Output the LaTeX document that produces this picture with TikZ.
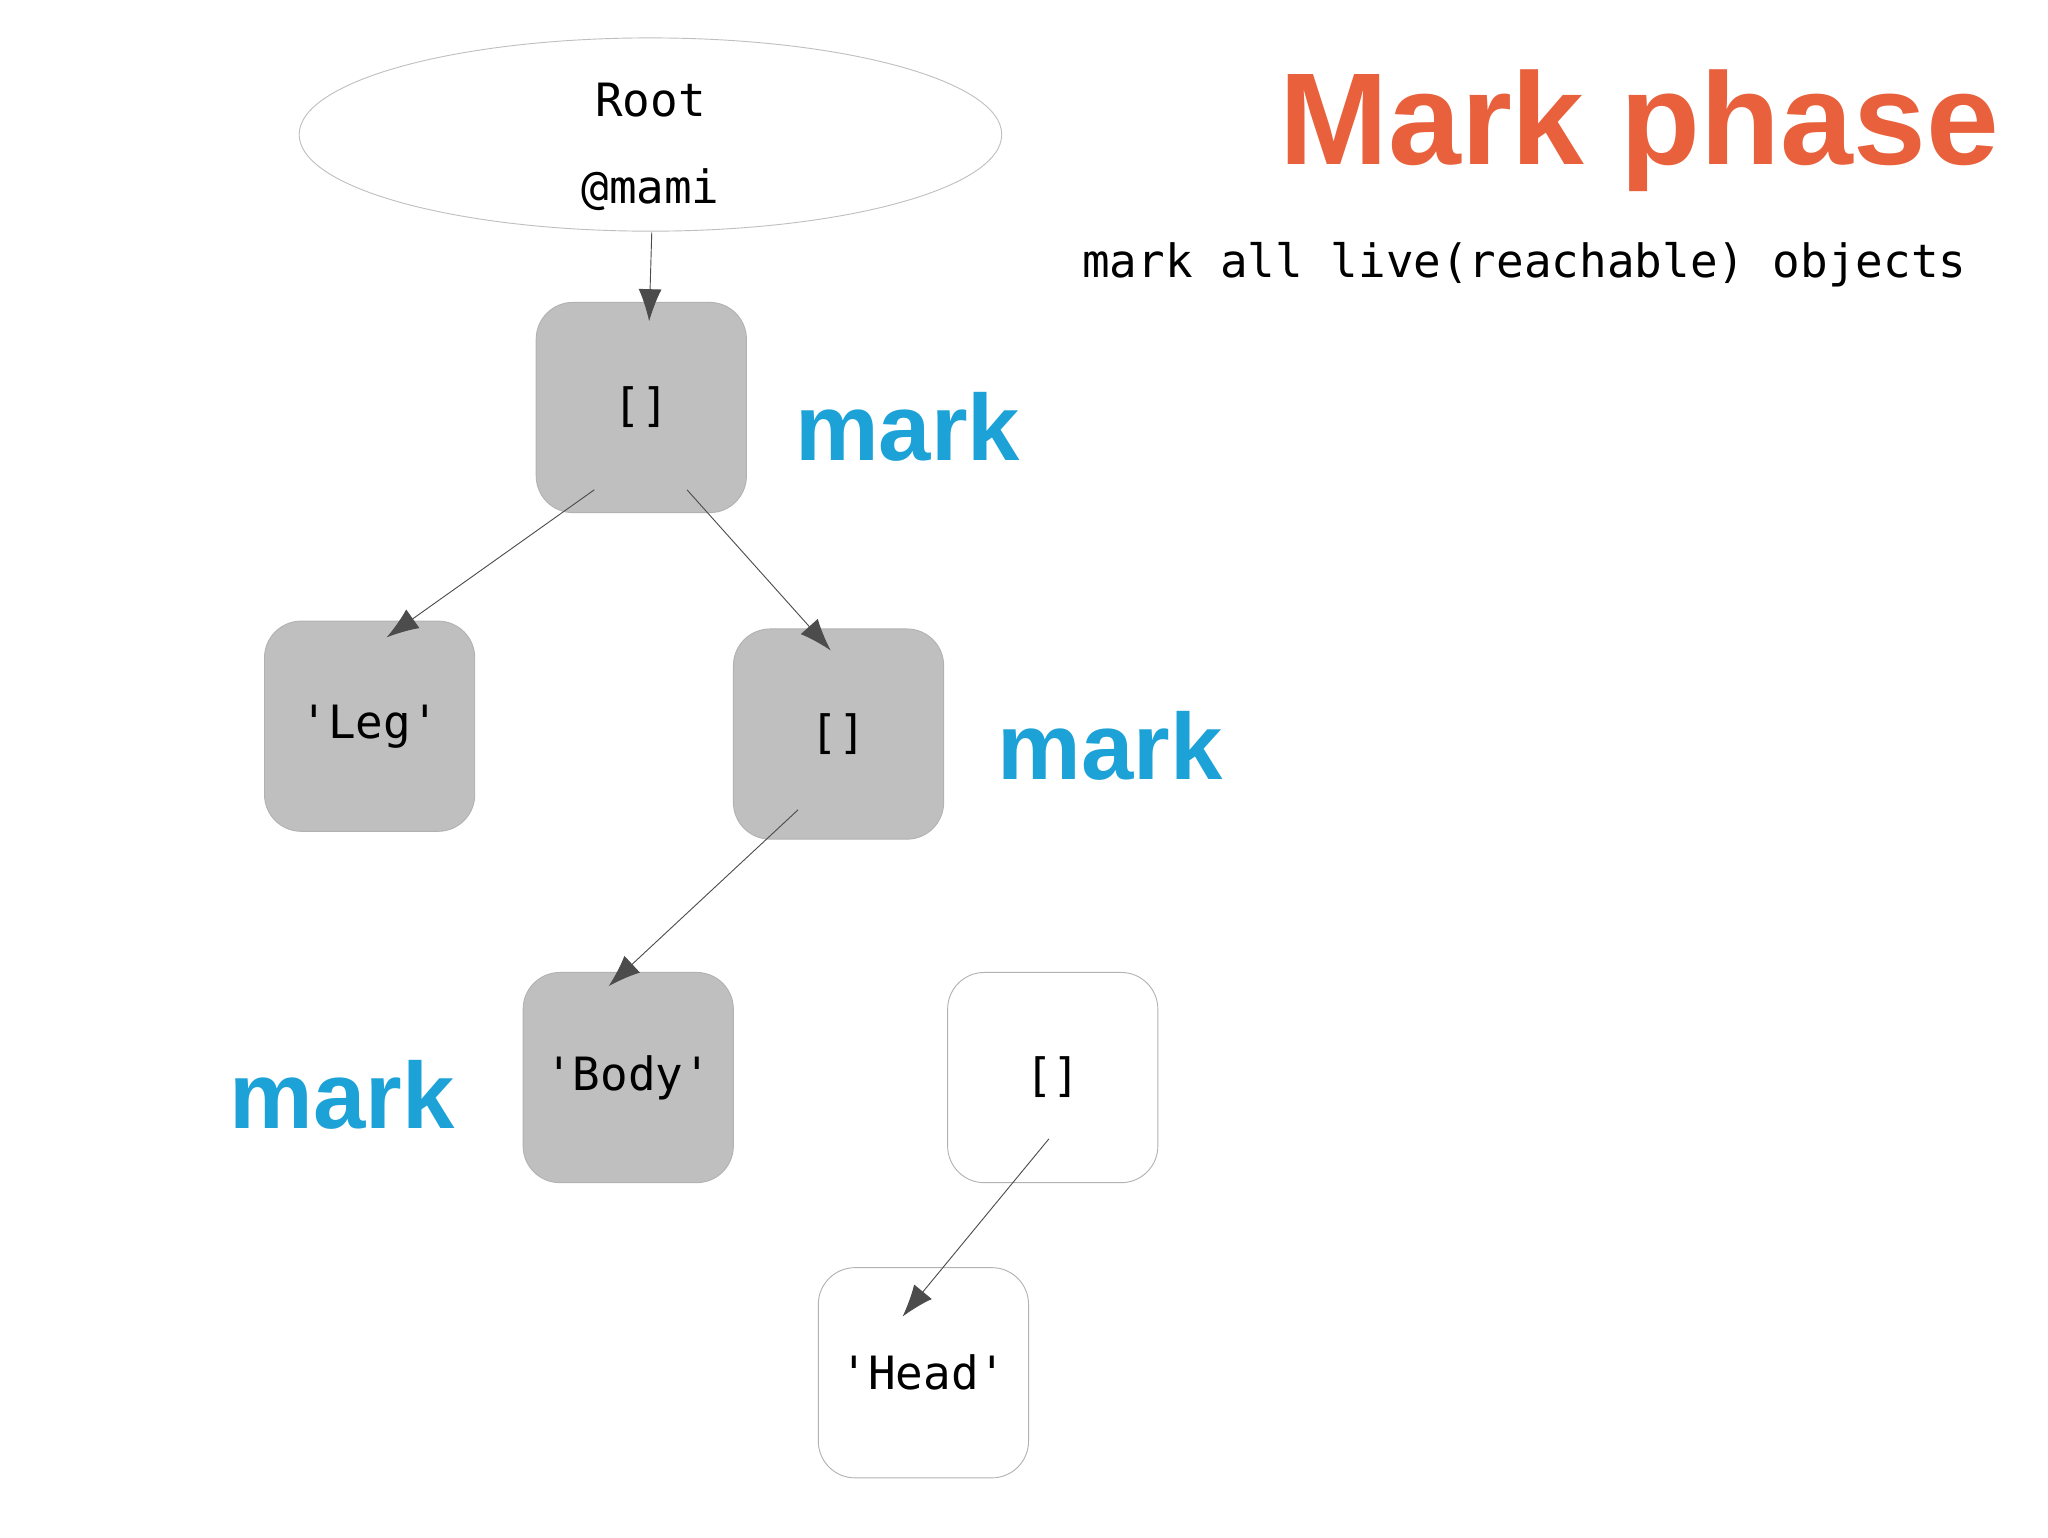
\documentclass[tikz,border=0pt]{standalone}
\usepackage{fontspec}
\setmainfont{Liberation Sans}
\newfontfamily\monof{DejaVu Sans Mono}
\usetikzlibrary{arrows.meta,shapes.geometric}
\begin{document}
\begin{tikzpicture}[x=0.02cm,y=-0.02cm,
 obj/.style={draw=black!30,rounded corners=16pt,minimum width=3.22cm,minimum height=3.22cm,font=\monof\fontsize{20}{24}\selectfont,inner sep=0},
 live/.style={obj,fill=black!25},
 dead/.style={obj,fill=white},
 marklbl/.style={font=\bfseries\fontsize{41}{45}\selectfont,text=cyan!75!teal},
 arr/.style={draw=black!70,line width=0.4pt,-{Latex[length=14pt,width=10pt]}}]
\useasboundingbox (0,0) rectangle (1568,1177);
\node[draw=black!25,ellipse,minimum width=10.76cm,minimum height=2.96cm] (root) at (498,103) {};
\node[font=\monof\fontsize{20}{24}\selectfont] at (498,77) {Root};
\node[font=\monof\fontsize{20}{24}\selectfont] at (498,145) {@mami};
\node[live] (a) at (491,312) {[]};
\node[live] (leg) at (283,556) {'Leg'};
\node[live] (b) at (642,562) {[]};
\node[live] (body) at (481,825) {'Body'};
\node[dead] (c) at (806,825) {[]};
\node[dead] (head) at (707,1051) {'Head'};
\coordinate (r0) at (499,178); \coordinate (a1) at (497,246);
\coordinate (a2) at (455,375); \coordinate (l1) at (296,488);
\coordinate (a3) at (526,375); \coordinate (b1) at (636,498);
\coordinate (b2) at (611,620); \coordinate (y1) at (466,755);
\coordinate (c2) at (803,872); \coordinate (h1) at (691,1008);
\draw[arr] (r0) -- (a1);
\draw[arr] (a2) -- (l1);
\draw[arr] (a3) -- (b1);
\draw[arr] (b2) -- (y1);
\draw[arr] (c2) -- (h1);
\node[marklbl] (m1) at (695,327) {mark};
\node[marklbl] (m2) at (850,571) {mark};
\node[marklbl] (m3) at (262,838) {mark};
\node[font=\bfseries\fontsize{57}{60}\selectfont,text={rgb,255:red,232;green,96;blue,60}] (t) at (1255,100) {Mark phase};
\node[font=\monof\fontsize{20}{24}\selectfont] (s) at (1167,203) {mark all live(reachable) objects};
\end{tikzpicture}
\end{document}
